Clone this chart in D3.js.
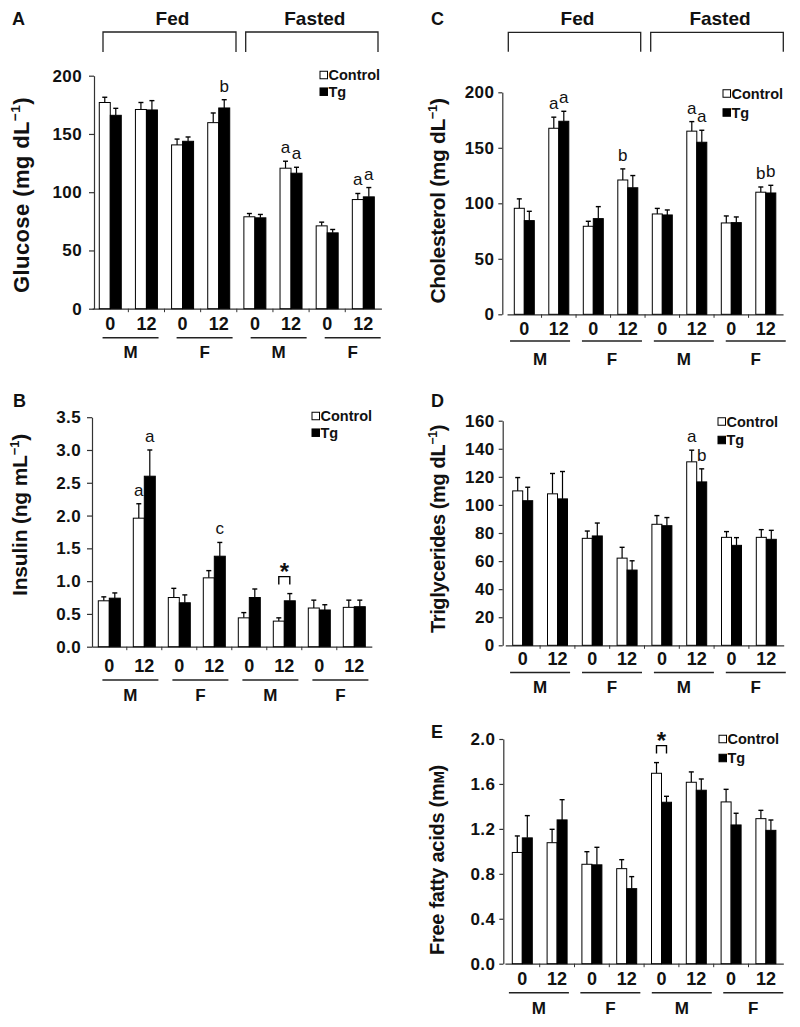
<!DOCTYPE html>
<html><head><meta charset="utf-8">
<script src="https://cdn.jsdelivr.net/npm/d3@7"></script>
<style>
body{margin:0;background:#fff}
svg{display:block}
</style>
</head><body>
<svg id="chart" width="800" height="1027"></svg>
<script>
const FONT = '"Liberation Sans", Arial, Helvetica, sans-serif';

// ---------- data ----------
const timeLabels = ["0","12","0","12","0","12","0","12"];
const sexLabels = ["M","F","M","F"];
const stateLabels = ["Fed","Fasted"];
const seriesNames = ["Control","Tg"];

const glucoseControl    = [177, 171, 140.6, 159.7, 78.9, 120.6, 71.1, 93.7];
const glucoseControlSem = [4.5, 6, 5, 8.3, 2.8, 6, 3.2, 5.2];
const glucoseTg         = [166, 170.6, 143.7, 172.3, 78, 116.3, 65.1, 96];
const glucoseTgSem      = [6, 8, 3.7, 7.1, 2.9, 5.1, 2.9, 8];
const glucoseTicks      = [0, 50, 100, 150, 200];
const glucoseNotes      = [{g:3,s:"Tg",t:"b"},{g:5,s:"Control",t:"a"},{g:5,s:"Tg",t:"a"},{g:7,s:"Control",t:"a"},{g:7,s:"Tg",t:"a"}];

const insulinControl    = [0.70, 1.96, 0.75, 1.05, 0.44, 0.39, 0.59, 0.60];
const insulinControlSem = [0.06, 0.22, 0.14, 0.11, 0.08, 0.05, 0.12, 0.11];
const insulinTg         = [0.74, 2.60, 0.67, 1.38, 0.75, 0.70, 0.56, 0.61];
const insulinTgSem      = [0.08, 0.40, 0.12, 0.21, 0.13, 0.11, 0.08, 0.10];
const insulinTicks      = [0, 0.5, 1.0, 1.5, 2.0, 2.5, 3.0, 3.5];
const insulinNotes      = [{g:1,s:"Control",t:"a"},{g:1,s:"Tg",t:"a"},{g:3,s:"Tg",t:"c"}];
const insulinStars      = [{g:5,t:"*"}];

const cholControl    = [95.5, 167.6, 79.3, 121, 90.4, 165, 82.3, 110];
const cholControlSem = [8.5, 10, 4.5, 10, 5, 8.6, 6.3, 4.7];
const cholTg         = [84.4, 173.9, 86.2, 114, 89.5, 155, 82.6, 109.3];
const cholTgSem      = [8.4, 9, 10.8, 11, 4.5, 10.8, 5.1, 6.9];
const cholTicks      = [0, 50, 100, 150, 200];
const cholNotes      = [{g:1,s:"Control",t:"a"},{g:1,s:"Tg",t:"a"},{g:3,s:"Control",t:"b"},{g:5,s:"Control",t:"a"},{g:5,s:"Tg",t:"a"},{g:7,s:"Control",t:"b"},{g:7,s:"Tg",t:"b"}];

const trigControl    = [110, 107.9, 76.2, 62.1, 86.2, 130.7, 76.9, 76.9];
const trigControlSem = [9.5, 14.5, 5.2, 7.7, 6.2, 8.3, 4.1, 5.5];
const trigTg         = [103, 104.3, 77.9, 53.6, 85.2, 116.4, 71.2, 75.5];
const trigTgSem      = [9.6, 19.5, 9.2, 6.6, 5.8, 9.3, 5.5, 6.4];
const trigTicks      = [0, 20, 40, 60, 80, 100, 120, 140, 160];
const trigNotes      = [{g:5,s:"Control",t:"a"},{g:5,s:"Tg",t:"b"}];

const ffaControl    = [0.99, 1.077, 0.885, 0.846, 1.695, 1.615, 1.44, 1.291];
const ffaControlSem = [0.147, 0.119, 0.112, 0.08, 0.095, 0.092, 0.112, 0.074];
const ffaTg         = [1.12, 1.28, 0.88, 0.668, 1.437, 1.544, 1.235, 1.187];
const ffaTgSem      = [0.198, 0.18, 0.156, 0.107, 0.053, 0.1, 0.104, 0.092];
const ffaTicks      = [0, 0.4, 0.8, 1.2, 1.6, 2.0];
const ffaStars      = [{g:4,t:"*"}];

// ---------- layout ----------
const panels = [
  {letter:"A", lx:12, ly:25, control:glucoseControl, controlSem:glucoseControlSem, tg:glucoseTg, tgSem:glucoseTgSem,
   ticks:glucoseTicks, fmt:d3.format("d"), max:200, notes:glucoseNotes, stars:[],
   title:[["Glucose (mg dL",0],["\u22121",1],[")",0]], tx:21.7, ty:195, tsize:22, tlen:196,
   axisX:94, band:[92.2,381.4], y0:308.7, yTop:75.7, barW:11, tickSize:5, tickPad:7,
   tickLabelY:323.3, ulY:337.7, sexY:351.7, ulW:56, ulS0:2.2, ulS1:1.75,
   legX:320, legY1:75, legY2:91.7,
   header:{fed:[103,236], fasted:[245.7,378], top:32, bottom:52, textY:25}},
  {letter:"B", lx:13, ly:407, control:insulinControl, controlSem:insulinControlSem, tg:insulinTg, tgSem:insulinTgSem,
   ticks:insulinTicks, fmt:d3.format(".1f"), max:3.5, notes:insulinNotes, stars:insulinStars,
   title:[["Insulin (ng mL",0],["\u22121",1],[")",0]], tx:20, ty:515, tsize:21, tlen:162,
   axisX:92, band:[91.8,371.8], y0:646.7, yTop:417.2, barW:11, tickSize:5, tickPad:6,
   tickLabelY:666, ulY:680, sexY:695, ulW:56, ulS0:3.6, ulS1:0,
   legX:312, legY1:416, legY2:432.7, header:null},
  {letter:"C", lx:431, ly:25, control:cholControl, controlSem:cholControlSem, tg:cholTg, tgSem:cholTgSem,
   ticks:cholTicks, fmt:d3.format("d"), max:200, notes:cholNotes, stars:[],
   title:[["Cholesterol (mg dL",0],["\u22121",1],[")",0]], tx:438, ty:201, tsize:21, tlen:205,
   axisX:502.3, band:[507.05,783.05], y0:314.3, yTop:92.3, barW:10, tickSize:4, tickPad:4,
   tickLabelY:329, ulY:341, sexY:359, ulW:60, ulS0:-1.5, ulS1:2.9,
   legX:723, legY1:93.5, legY2:112.5,
   header:{fed:[508.3,640.7], fasted:[650.7,783.3], top:32.3, bottom:51.7, textY:25}},
  {letter:"D", lx:431, ly:407, control:trigControl, controlSem:trigControlSem, tg:trigTg, tgSem:trigTgSem,
   ticks:trigTicks, fmt:d3.format("d"), max:160, notes:trigNotes, stars:[],
   title:[["Triglycerides (mg dL",0],["\u22121",1],[")",0]], tx:438, ty:529, tsize:20, tlen:208,
   axisX:502.7, band:[505.3,783.7], y0:645.3, yTop:420.7, barW:10, tickSize:4, tickPad:4,
   tickLabelY:659, ulY:672.5, sexY:687, ulW:60, ulS0:0, ulS1:2.3,
   legX:718, legY1:421.5, legY2:440, header:null},
  {letter:"E", lx:431, ly:738, control:ffaControl, controlSem:ffaControlSem, tg:ffaTg, tgSem:ffaTgSem,
   ticks:ffaTicks, fmt:d3.format(".1f"), max:2.0, notes:[], stars:ffaStars,
   title:[["Free fatty acids (m",0],["M",2],[")",0]], tx:437, ty:860, tsize:20, tlen:190,
   axisX:503.3, band:[504.9,783.3], y0:963.7, yTop:739, barW:10, tickSize:4, tickPad:4,
   tickLabelY:978.3, ulY:992.7, sexY:1008.3, ulW:60, ulS0:-0.8, ulS1:1.85,
   legX:719, legY1:739, legY2:758, header:null}
];

const svg = d3.select("#chart");
svg.append("rect").attr("width",800).attr("height",1027).attr("fill","#fff");
const AX = "#333";

function drawPanel(p) {
  const g = svg.append("g");
  const x = d3.scaleBand().domain(d3.range(timeLabels.length)).range(p.band).paddingInner(0).paddingOuter(0);
  const sub = d3.scaleBand().domain(seriesNames).range([-p.barW, p.barW]);
  const y = d3.scaleLinear().domain([0, p.max]).range([p.y0, p.yTop]);

  // y axis
  const ya = g.append("g").attr("transform", `translate(${p.axisX},0)`)
    .call(d3.axisLeft(y).tickValues(p.ticks).tickFormat(p.fmt).tickSize(p.tickSize).tickPadding(p.tickPad).tickSizeOuter(0));
  ya.select(".domain").attr("stroke", AX).attr("stroke-width", 1.2);
  ya.selectAll(".tick line").attr("stroke", AX).attr("stroke-width", 1.2);
  ya.selectAll(".tick text").attr("font-family", FONT).attr("font-size", 17).attr("font-weight", "bold")
    .attr("fill", "#111").style("letter-spacing", "0.4px");

  // x axis
  const xa = g.append("g").attr("transform", `translate(0,${p.y0})`)
    .call(d3.axisBottom(x).tickFormat(i => timeLabels[i]).tickSize(0).tickPadding(0).tickSizeOuter(0));
  xa.select(".domain").attr("stroke", AX).attr("stroke-width", 1.2);
  xa.selectAll(".tick text").attr("y", p.tickLabelY - p.y0).attr("dy", "0.35em")
    .attr("font-family", FONT).attr("font-size", 18).attr("font-weight", "bold").attr("fill", "#111");
  g.selectAll("line.bt").data(d3.range(1, timeLabels.length)).join("line").attr("class", "bt")
    .attr("x1", i => x(i)).attr("x2", i => x(i)).attr("y1", p.y0).attr("y2", p.y0 + 3.5)
    .attr("stroke", AX).attr("stroke-width", 1);

  // bars
  const rows = timeLabels.flatMap((t, i) => [
    {i, s:"Control", v:p.control[i], e:p.controlSem[i]},
    {i, s:"Tg", v:p.tg[i], e:p.tgSem[i]}
  ]);
  const left = d => x(d.i) + x.bandwidth() / 2 + sub(d.s);
  const cx = d => left(d) + sub.bandwidth() / 2;
  g.selectAll("line.eb").data(rows).join("line").attr("class", "eb")
    .attr("x1", cx).attr("x2", cx).attr("y1", d => y(d.v)).attr("y2", d => y(d.v + d.e))
    .attr("stroke", "#000").attr("stroke-width", 1.2);
  g.selectAll("line.ec").data(rows).join("line").attr("class", "ec")
    .attr("x1", d => cx(d) - 2.5).attr("x2", d => cx(d) + 2.5).attr("y1", d => y(d.v + d.e)).attr("y2", d => y(d.v + d.e))
    .attr("stroke", "#000").attr("stroke-width", 1.4);
  g.selectAll("rect.bar").data(rows).join("rect").attr("class", "bar")
    .attr("x", left).attr("width", sub.bandwidth())
    .attr("y", d => y(d.v)).attr("height", d => y(0) - y(d.v))
    .attr("fill", d => d.s === "Tg" ? "#000" : "#fff").attr("stroke", "#000").attr("stroke-width", 1);

  // underlines + sex labels
  sexLabels.forEach((s, k) => {
    const c = x(2 * k + 1) + p.ulS0 + k * p.ulS1;
    g.append("line").attr("x1", c - p.ulW / 2).attr("x2", c + p.ulW / 2).attr("y1", p.ulY).attr("y2", p.ulY)
      .attr("stroke", "#222").attr("stroke-width", 1.5);
    g.append("text").attr("x", c).attr("y", p.sexY).attr("dy", "0.35em").attr("text-anchor", "middle")
      .attr("font-family", FONT).attr("font-size", 17).attr("font-weight", "bold").attr("fill", "#111").text(s);
  });

  // legend
  [[seriesNames[0], p.legY1, "#fff"], [seriesNames[1], p.legY2, "#000"]].forEach(([name, ly, fill]) => {
    g.append("rect").attr("x", p.legX).attr("y", ly - 3.75).attr("width", 7.5).attr("height", 7.5)
      .attr("fill", fill).attr("stroke", "#000").attr("stroke-width", 1);
    g.append("text").attr("x", p.legX + 8.5).attr("y", ly).attr("dy", "0.35em")
      .attr("font-family", FONT).attr("font-size", 14.5).attr("font-weight", "bold").attr("fill", "#111").text(name);
  });

  // letter annotations
  const find = (gi, s) => rows.find(r => r.i === gi && r.s === s);
  p.notes.forEach(n => {
    const r = find(n.g, n.s);
    g.append("text").attr("x", cx(r)).attr("y", y(r.v + r.e) - 8).attr("text-anchor", "middle")
      .attr("font-family", FONT).attr("font-size", 17).attr("fill", "#111").text(n.t);
  });

  // significance brackets
  p.stars.forEach(st => {
    const a = find(st.g, "Control"), b = find(st.g, "Tg");
    const top = y(Math.max(a.v + a.e, b.v + b.e)) - 17;
    g.append("path").attr("d", `M${cx(a)},${top + 8}V${top}H${cx(b)}V${top + 8}`)
      .attr("fill", "none").attr("stroke", "#000").attr("stroke-width", 1.4);
    g.append("text").attr("x", (cx(a) + cx(b)) / 2).attr("y", top + 3).attr("text-anchor", "middle")
      .attr("font-family", FONT).attr("font-size", 24).attr("font-weight", "bold").attr("fill", "#111").text(st.t);
  });

  // header brackets
  if (p.header) {
    const h = p.header;
    [[stateLabels[0], h.fed], [stateLabels[1], h.fasted]].forEach(([lab, [a, b]]) => {
      g.append("path").attr("d", `M${a},${h.bottom}V${h.top}H${b}V${h.bottom}`)
        .attr("fill", "none").attr("stroke", "#222").attr("stroke-width", 1.3);
      g.append("text").attr("x", (a + b) / 2 + 3).attr("y", h.textY).attr("text-anchor", "middle")
        .attr("font-family", FONT).attr("font-size", 19).attr("font-weight", "bold").attr("fill", "#111").text(lab);
    });
  }

  // panel letter
  g.append("text").attr("x", p.lx).attr("y", p.ly).attr("font-family", FONT).attr("font-size", 18)
    .attr("font-weight", "bold").attr("fill", "#111").text(p.letter);

  // y title
  const tt = g.append("text").attr("transform", `translate(${p.tx},${p.ty}) rotate(-90)`)
    .attr("text-anchor", "middle").attr("dy", "0.35em")
    .attr("font-family", FONT).attr("font-size", p.tsize).attr("font-weight", "bold").attr("fill", "#111");
  p.title.forEach(([s, kind], idx) => {
    const ts = tt.append("tspan").text(s);
    if (kind === 1) ts.attr("font-size", p.tsize * 0.62).attr("dy", -p.tsize * 0.42);
    else if (kind === 2) ts.attr("font-size", p.tsize * 0.75);
    if (idx > 0 && p.title[idx - 1][1] === 1) ts.attr("dy", p.tsize * 0.42);
  });
  const node = tt.node();
  const natural = node.getComputedTextLength();
  const n = node.textContent.length;
  const ls = Math.max(-1, Math.min(3, (p.tlen - natural) / n));
  tt.style("letter-spacing", ls + "px");
}

panels.forEach(drawPanel);
</script>
</body></html>
